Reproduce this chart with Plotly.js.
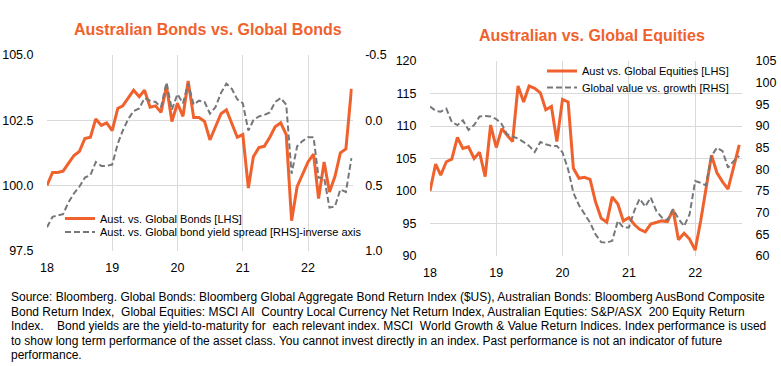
<!DOCTYPE html>
<html>
<head>
<meta charset="utf-8">
<script src="https://cdn.plot.ly/plotly-3.0.1.min.js"></script>
<style>html,body{margin:0;padding:0;background:#fff;}#chart{width:781px;height:366px;}</style>
</head>
<body>
<div id="chart"></div>
<script>
// ---- data ----
const months = ['2018-01','2018-02','2018-03','2018-04','2018-05','2018-06','2018-07','2018-08','2018-09','2018-10','2018-11','2018-12',
 '2019-01','2019-02','2019-03','2019-04','2019-05','2019-06','2019-07','2019-08','2019-09','2019-10','2019-11','2019-12',
 '2020-01','2020-02','2020-03','2020-04','2020-05','2020-06','2020-07','2020-08','2020-09','2020-10','2020-11','2020-12',
 '2021-01','2021-02','2021-03','2021-04','2021-05','2021-06','2021-07','2021-08','2021-09','2021-10','2021-11','2021-12',
 '2022-01','2022-02','2022-03','2022-04','2022-05','2022-06','2022-07','2022-08','2022-09'];

const ausVsGlobalBonds = [100.0,100.5,100.5,100.55,100.85,101.15,101.3,101.8,101.85,102.55,102.3,102.4,
 102.1,102.95,103.05,103.35,103.65,103.4,103.65,103.0,103.05,102.8,103.8,102.45,
 103.15,102.65,104.0,102.6,102.6,102.45,101.75,102.25,102.75,102.9,102.35,101.85,
 101.95,99.9,101.1,101.45,101.5,101.85,102.25,102.4,101.95,98.65,99.95,100.4,
 100.9,101.2,99.5,100.9,99.75,100.35,101.25,101.4,103.7];

const bondYieldSpread = [0.82,0.74,0.73,0.72,0.63,0.56,0.51,0.44,0.42,0.32,0.35,0.35,
 0.34,0.18,0.08,-0.01,-0.07,-0.09,-0.17,-0.15,-0.14,-0.1,-0.29,-0.08,
 -0.2,-0.13,-0.28,-0.12,-0.15,-0.14,-0.05,-0.1,-0.21,-0.28,-0.24,-0.16,
 -0.13,0.08,0.0,-0.03,-0.04,-0.06,-0.14,-0.17,-0.12,0.41,0.2,0.16,
 0.13,0.13,0.44,0.44,0.67,0.66,0.53,0.55,0.29];

const ausVsGlobalEquities = [100.0,104.15,102.45,104.5,104.9,108.25,106.55,106.8,105.0,105.95,102.2,110.15,
 106.7,109.6,108.6,107.6,116.15,113.7,116.15,115.8,115.1,112.5,113.0,107.6,
 114.1,113.7,103.5,101.95,102.1,101.8,98.35,95.8,95.2,99.1,98.0,95.4,
 95.9,94.8,94.1,93.7,94.9,95.1,95.4,95.3,97.1,92.5,93.5,92.6,
 90.9,95.5,100.5,105.5,102.8,101.4,100.3,103.7,107.1];

const valueVsGrowth = [94.5,93.5,93.3,94.0,90.9,90.2,91.3,89.1,90.2,92.2,92.3,92.2,
 91.6,90.4,88.1,87.6,87.1,86.3,85.4,84.0,86.3,85.8,85.4,85.4,
 83.9,80.0,74.6,71.7,69.6,67.7,65.0,63.2,63.1,63.5,68.1,66.6,
 66.6,70.6,73.2,71.4,73.5,70.4,68.9,68.3,70.8,68.6,66.9,69.6,
 77.3,76.9,76.3,83.1,85.0,84.2,80.4,81.9,83.1];

const yearTickVals = ['2018-01-01','2019-01-01','2020-01-01','2021-01-01','2022-01-01'];
const yearTickText = ['18','19','20','21','22'];
const yearGridVals = ['2019-01-01','2020-01-01','2021-01-01','2022-01-01'];

const bondsLhsTicks = [97.5,100,102.5,105];
const bondsLhsText = ['97.5','100.0','102.5','105.0'];
const bondsRhsTicks = [-0.5,0,0.5,1.0];
const bondsRhsText = ['-0.5','0.0','0.5','1.0'];
const eqLhsTicks = [90,95,100,105,110,115,120];
const eqRhsTicks = [60,65,70,75,80,85,90,95,100,105];

const seriesNames = ['Aust. vs. Global Bonds [LHS]','Aust. vs. Global bond yield spread [RHS]-inverse axis',
 'Aust vs. Global Equities [LHS]','Global value vs. growth [RHS]'];
const titles = ['Australian Bonds vs. Global Bonds','Australian vs. Global Equities'];
const sourceLines = [
 'Source: Bloomberg. Global Bonds: Bloomberg Global Aggregate Bond Return Index ($US), Australian Bonds: Bloomberg AusBond Composite',
 'Bond Return Index,  Global Equities: MSCI All  Country Local Currency Net Return Index, Australian Equties: S&P/ASX  200 Equity Return',
 'Index.\u00a0\u00a0\u00a0\u00a0Bond yields are the yield-to-maturity for  each relevant index. MSCI  World Growth &amp; Value Return Indices. Index performance is used',
 'to show long term performance of the asset class. You cannot invest directly in an index. Past performance is not an indicator of future',
 'performance.'
];

// ---- style ----
const W = 781, H = 366;
const ORANGE = '#F0622D';
const GREY = '#75787B';
const GRID = '#D9D9D9';
const FONT = 'Arial, "Liberation Sans", sans-serif';
const px = v => v / W;
const py = v => 1 - v / H;

const traces = [
 {x: months, y: ausVsGlobalBonds, xaxis: 'x', yaxis: 'y', type: 'scatter', mode: 'lines', name: seriesNames[0],
  line: {color: ORANGE, width: 3}, legend: 'legend'},
 {x: months, y: bondYieldSpread, xaxis: 'x', yaxis: 'y2', type: 'scatter', mode: 'lines', name: seriesNames[1],
  line: {color: GREY, width: 2, dash: '6px,3px'}, legend: 'legend2'},
 {x: months, y: ausVsGlobalEquities, xaxis: 'x2', yaxis: 'y3', type: 'scatter', mode: 'lines', name: seriesNames[2],
  line: {color: ORANGE, width: 3}, legend: 'legend3'},
 {x: months, y: valueVsGrowth, xaxis: 'x2', yaxis: 'y4', type: 'scatter', mode: 'lines', name: seriesNames[3],
  line: {color: GREY, width: 2, dash: '6px,3px'}, legend: 'legend4'}
];
const order = [traces[1], traces[0], traces[3], traces[2]];

const tickFont = {family: FONT, size: 12.5, color: '#000'};
const xBase = {type: 'date', tickvals: yearTickVals, ticktext: yearTickText, showgrid: false,
  minor: {tickvals: yearGridVals, showgrid: true, gridcolor: GRID, gridwidth: 1, ticks: ''},
  ticks: 'outside', ticklen: 5, tickcolor: 'rgba(0,0,0,0)', zeroline: false, showline: false, tickfont: tickFont, fixedrange: true};
const yBase = {ticks: 'outside', ticklen: 10, tickcolor: 'rgba(0,0,0,0)', zeroline: false, showline: false, tickfont: tickFont, fixedrange: true};

const legBase = {xanchor: 'left', yanchor: 'middle', bgcolor: 'rgba(0,0,0,0)', borderwidth: 0,
  font: {family: FONT, size: 11, color: '#000'}, itemwidth: 30, tracegroupgap: 0};

const annotations = [
  {xref: 'paper', yref: 'paper', x: px(208), y: py(30), xanchor: 'center', yanchor: 'middle', showarrow: false,
   text: titles[0], font: {family: FONT, size: 16, color: ORANGE, weight: 'bold'}},
  {xref: 'paper', yref: 'paper', x: px(592), y: py(35), xanchor: 'center', yanchor: 'middle', showarrow: false,
   text: titles[1], font: {family: FONT, size: 16, color: ORANGE, weight: 'bold'}}
];
sourceLines.forEach((t, i) => {
  annotations.push({xref: 'paper', yref: 'paper', x: px(9), y: py(297 + i * 14.5), xanchor: 'left', yanchor: 'middle',
    align: 'left', showarrow: false, text: t, font: {family: FONT, size: 12, color: '#000'}});
});

const layout = {
 width: W, height: H, margin: {l: 0, r: 0, t: 0, b: 0},
 paper_bgcolor: '#fff', plot_bgcolor: '#fff',
 font: {family: FONT},
 showlegend: true,
 xaxis: Object.assign({}, xBase, {domain: [px(47), px(352.7)], anchor: 'y', range: ['2018-01-01', '2022-09-08']}),
 yaxis: Object.assign({}, yBase, {domain: [py(250.7), py(55)], anchor: 'x', range: [97.5, 105],
   tickvals: bondsLhsTicks, ticktext: bondsLhsText, showgrid: true, gridcolor: GRID}),
 yaxis2: Object.assign({}, yBase, {overlaying: 'y', anchor: 'x', side: 'right', range: [1.0, -0.5],
   tickvals: bondsRhsTicks, ticktext: bondsRhsText, showgrid: false, ticklen: 9}),
 xaxis2: Object.assign({}, xBase, {domain: [px(430), px(742)], anchor: 'y3', range: ['2018-01-01', '2022-09-16']}),
 yaxis3: Object.assign({}, yBase, {domain: [py(256), py(61)], anchor: 'x2', range: [90, 120],
   tickvals: eqLhsTicks, showgrid: true, gridcolor: GRID}),
 yaxis4: Object.assign({}, yBase, {overlaying: 'y3', anchor: 'x2', side: 'right', range: [60, 105],
   tickvals: eqRhsTicks, showgrid: false}),
 legend: Object.assign({}, legBase, {x: px(60), y: py(218.5)}),
 legend2: Object.assign({}, legBase, {x: px(60), y: py(232)}),
 legend3: Object.assign({}, legBase, {x: px(542), y: py(71)}),
 legend4: Object.assign({}, legBase, {x: px(542), y: py(87.5)}),
 annotations: annotations
};

Plotly.newPlot('chart', order, layout, {staticPlot: true, displayModeBar: false});
</script>
</body>
</html>
